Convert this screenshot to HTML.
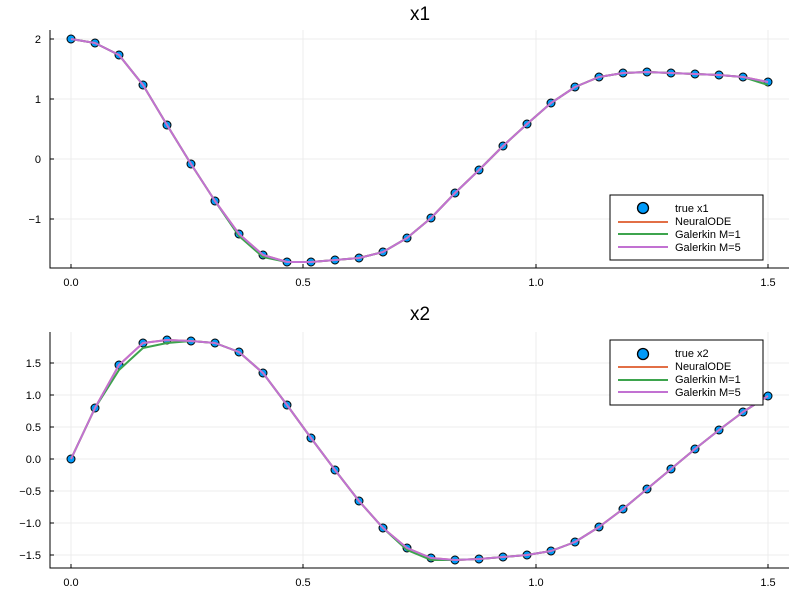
<!DOCTYPE html>
<html><head><style>body{margin:0;background:#fff}svg text{font-family:"Liberation Sans","DejaVu Sans",sans-serif;fill:#000}</style></head><body>
<svg width="800" height="600" xmlns="http://www.w3.org/2000/svg">
<rect width="800" height="600" fill="#fff"/>
<g stroke="#ececec" stroke-width="1">
<line x1="71" y1="30" x2="71" y2="268"/><line x1="303" y1="30" x2="303" y2="268"/><line x1="536" y1="30" x2="536" y2="268"/><line x1="768" y1="30" x2="768" y2="268"/>
<line x1="50" y1="39" x2="789" y2="39"/><line x1="50" y1="99" x2="789" y2="99"/><line x1="50" y1="159" x2="789" y2="159"/><line x1="50" y1="219" x2="789" y2="219"/>
<line x1="71" y1="332" x2="71" y2="568"/><line x1="303" y1="332" x2="303" y2="568"/><line x1="536" y1="332" x2="536" y2="568"/><line x1="768" y1="332" x2="768" y2="568"/>
<line x1="50" y1="363" x2="789" y2="363"/><line x1="50" y1="395" x2="789" y2="395"/><line x1="50" y1="427" x2="789" y2="427"/><line x1="50" y1="459" x2="789" y2="459"/><line x1="50" y1="491" x2="789" y2="491"/><line x1="50" y1="523" x2="789" y2="523"/><line x1="50" y1="555" x2="789" y2="555"/>
</g>
<g stroke="#000" stroke-width="1" fill="none">
<polyline points="50,30 50,268 789,268"/>
<polyline points="50,332 50,568 789,568"/>
<line x1="71" y1="268" x2="71" y2="264"/><line x1="303" y1="268" x2="303" y2="264"/><line x1="536" y1="268" x2="536" y2="264"/><line x1="768" y1="268" x2="768" y2="264"/>
<line x1="50" y1="39" x2="54" y2="39"/><line x1="50" y1="99" x2="54" y2="99"/><line x1="50" y1="159" x2="54" y2="159"/><line x1="50" y1="219" x2="54" y2="219"/>
<line x1="71" y1="568" x2="71" y2="564"/><line x1="303" y1="568" x2="303" y2="564"/><line x1="536" y1="568" x2="536" y2="564"/><line x1="768" y1="568" x2="768" y2="564"/>
<line x1="50" y1="363" x2="54" y2="363"/><line x1="50" y1="395" x2="54" y2="395"/><line x1="50" y1="427" x2="54" y2="427"/><line x1="50" y1="459" x2="54" y2="459"/><line x1="50" y1="491" x2="54" y2="491"/><line x1="50" y1="523" x2="54" y2="523"/><line x1="50" y1="555" x2="54" y2="555"/>
</g>
<g font-size="11" text-anchor="middle">
<text x="71" y="286">0.0</text><text x="303" y="286">0.5</text><text x="536" y="286">1.0</text><text x="768" y="286">1.5</text>
<text x="71" y="586">0.0</text><text x="303" y="586">0.5</text><text x="536" y="586">1.0</text><text x="768" y="586">1.5</text>
</g>
<g font-size="11" text-anchor="end">
<text x="41" y="43">2</text><text x="41" y="103">1</text><text x="41" y="163">0</text><text x="41" y="223">−1</text>
<text x="41" y="367">1.5</text><text x="41" y="399">1.0</text><text x="41" y="431">0.5</text><text x="41" y="463">0.0</text><text x="41" y="495">−0.5</text><text x="41" y="527">−1.0</text><text x="41" y="559">−1.5</text>
</g>
<text x="420" y="20" font-size="19" text-anchor="middle">x1</text>
<text x="420" y="320" font-size="19" text-anchor="middle">x2</text>
<g id="pts1" fill="#009af9" stroke="#000" stroke-width="1">
</g>
<g fill="none" stroke-width="2" stroke-linejoin="round">
<polyline id="o1" stroke="#e26f46"/><polyline id="g1" stroke="#3da44d"/><polyline id="p1" stroke="#c271d2"/>
<polyline id="o2" stroke="#e26f46"/><polyline id="g2" stroke="#3da44d"/><polyline id="p2" stroke="#c271d2"/>
</g>
<g>
<rect x="610" y="195" width="153" height="65" fill="#fff" stroke="#000"/>
<circle cx="643" cy="208" r="5.5" fill="#009af9" stroke="#000" stroke-width="1.3"/>
<line x1="618" y1="222" x2="668" y2="222" stroke="#e26f46" stroke-width="2"/>
<line x1="618" y1="234" x2="668" y2="234" stroke="#3da44d" stroke-width="2"/>
<line x1="618" y1="247" x2="668" y2="247" stroke="#c271d2" stroke-width="2"/>
<g font-size="11"><text x="675" y="212">true x1</text><text x="675" y="225">NeuralODE</text><text x="675" y="238">Galerkin M=1</text><text x="675" y="251">Galerkin M=5</text></g>
</g>
<g>
<rect x="610" y="340" width="153" height="65" fill="#fff" stroke="#000"/>
<circle cx="643" cy="354" r="5.5" fill="#009af9" stroke="#000" stroke-width="1.3"/>
<line x1="618" y1="367" x2="668" y2="367" stroke="#e26f46" stroke-width="2"/>
<line x1="618" y1="380" x2="668" y2="380" stroke="#3da44d" stroke-width="2"/>
<line x1="618" y1="392" x2="668" y2="392" stroke="#c271d2" stroke-width="2"/>
<g font-size="11"><text x="675" y="357">true x2</text><text x="675" y="370">NeuralODE</text><text x="675" y="383">Galerkin M=1</text><text x="675" y="396">Galerkin M=5</text></g>
</g>
<g id="pts2" fill="#009af9" stroke="#000" stroke-width="1"></g>
</svg>
<script>
var X=[71,95,119,143,167,191,215,239,263,287,311,335,359,383,407,431,455,479,503,527,551,575,599,623,647,671,695,719,743,768];
var Y1=[39,43,55,85,125,164,201,234,255,262,262,260,258,252,238,218,193,170,146,124,103,87,77,73,72,73,74,75,77,82];
var Y2=[459,408,365,343,340,341,343,352,373,405,438,470,501,528,548,558,560,559,557,555,551,542,527,509,489,469,449,430,412,396];
var ns="http://www.w3.org/2000/svg";
function pts(g,Y){var el=document.getElementById(g);var svg=el.ownerSVGElement;
 var lines=svg.querySelector('g[fill="none"]');
 var grp=document.createElementNS(ns,'g');grp.setAttribute('fill','#009af9');grp.setAttribute('stroke','#000');
 for(var i=0;i<X.length;i++){var c=document.createElementNS(ns,'circle');c.setAttribute('cx',X[i]);c.setAttribute('cy',Y[i]);c.setAttribute('r',4);grp.appendChild(c);}
 svg.insertBefore(grp,lines);}
pts('pts1',Y1);pts('pts2',Y2);
function line(id,Y,d){document.getElementById(id).setAttribute('points',X.map(function(x,i){return x+','+(Y[i]+(d?d(i):0));}).join(' '));}
line('o1',Y1);line('p1',Y1);line('g1',Y1,function(i){return i==29?3:(i==7||i==8?2:0)});
line('o2',Y2);line('g2',Y2,function(i){return i==2?5:(i==3?5:(i==4?3:(i==14?2:(i==15?2:0))))});line('p2',Y2);
</script>
</body></html>
